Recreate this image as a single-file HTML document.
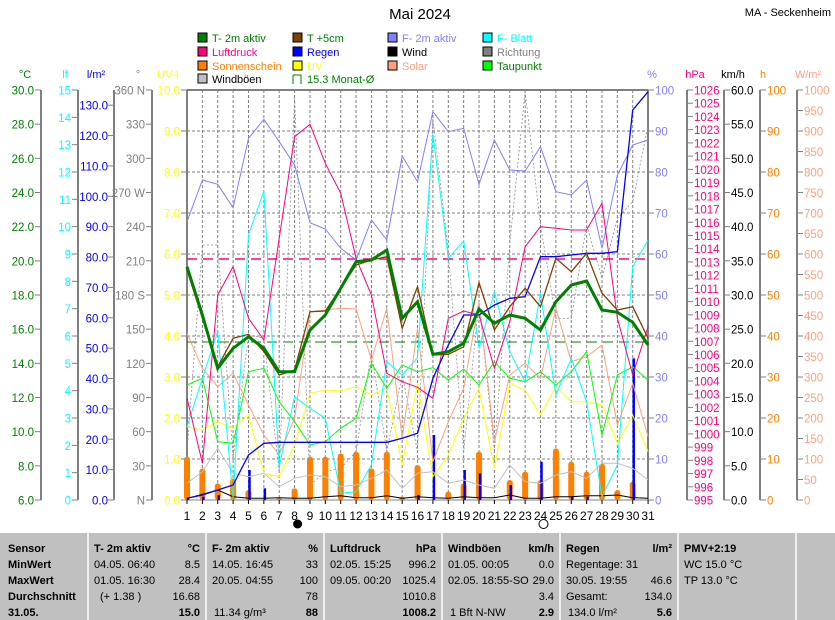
<!DOCTYPE html>
<html><head><meta charset="utf-8"><style>
body{margin:0;background:#fff;width:835px;height:620px;overflow:hidden;font-family:"Liberation Sans",sans-serif}
svg{display:block}
text{font-family:"Liberation Sans",sans-serif}
</style></head><body>
<svg id="s" width="835" height="620" xmlns="http://www.w3.org/2000/svg" font-size="11">
<text x="420" y="19" font-size="15" text-anchor="middle">Mai 2024</text>
<text x="831" y="16" font-size="11" text-anchor="end">MA - Seckenheim</text>
<g id="g"></g>
</svg>
<script>
const NS="http://www.w3.org/2000/svg",g=document.getElementById('g');
function el(t,a,txt){const e=document.createElementNS(NS,t);for(const k in a)e.setAttribute(k,a[k]);if(txt!=null)e.textContent=txt;g.appendChild(e);return e;}
const X0=187,DX=15.37,T=90,B=500;
const dx=d=>X0+(d-1)*DX, zy=v=>85+v/3;
const leg=[[198,38,'#008000','T- 2m aktiv','#008000'],[293,38,'#804000','T +5cm','#008000'],[388,38,'#8080ff','F- 2m aktiv','#8080ff'],[483,38,'#00ffff','F- Blatt','#00ffff'],
[198,52,'#ff0080','Luftdruck','#ff0080'],[293,52,'#0000ff','Regen','#0000ff'],[388,52,'#000','Wind','#000'],[483,52,'#808080','Richtung','#808080'],
[198,66,'#ff8000','Sonnenschein','#ff8000'],[293,66,'#ffff00','UV','#ffff00'],[388,66,'#ffa080','Solar','#ffa080'],[483,66,'#00ff00','Taupunkt','#008000'],
[198,79,'#c0c0c0','Windböen','#000']];
leg.forEach(l=>{el('rect',{x:l[0],y:l[1]-5,width:9,height:9,fill:l[2],stroke:'#000'});el('text',{x:l[0]+14,y:l[1]+4,fill:l[4]},l[3]);});
el('path',{d:'M293 75 H301 V84 M293 75 V84',stroke:'#008000',fill:'none'});
el('text',{x:307,y:83,fill:'#008000'},'15.3 Monat-Ø');
for(let i=1;i<10;i++)el('line',{x1:X0,x2:648,y1:T+i*41,y2:T+i*41,stroke:'#808080','stroke-dasharray':'3,2'});
for(let d=2;d<=30;d++)el('line',{x1:dx(d),x2:dx(d),y1:T,y2:B,stroke:'#808080','stroke-dasharray':'3,2'});
[[25,'°C','#008000'],[65,'lf','#00ffff'],[96,'l/m²','#0000ff'],[138,'°','#808080'],[168,'UV-I','#ffff00'],[652,'%','#8080ff'],[695,'hPa','#ff0080'],[733,'km/h','#000'],[763,'h','#ff8000'],[808,'W/m²','#ffa080']].forEach(h=>el('text',{x:h[0],y:78,fill:h[2],'text-anchor':'middle'},h[1]));
function axis(xl,n,fmt,col,right){
 el('line',{x1:xl,x2:xl,y1:T,y2:B,stroke:'#808080','stroke-width':2});
 for(let i=0;i<=n;i++){const y=T+i*(B-T)/n;
  if(!right){el('line',{x1:xl-6,x2:xl,y1:y,y2:y,stroke:'#808080'});el('text',{x:xl-7,y:y+4.5,fill:col,'text-anchor':'end','font-size':11.5},fmt(i));}
  else{el('line',{x1:xl,x2:xl+6,y1:y,y2:y,stroke:'#808080'});el('text',{x:xl+7,y:y+4.5,fill:col,'font-size':11.5},fmt(i));}}
}
axis(41,12,i=>(30-2*i).toFixed(1),'#008000');
axis(78,15,i=>String(15-i),'#00ffff');
el('line',{x1:114,x2:114,y1:T,y2:B,stroke:'#808080','stroke-width':2});
for(let v=0;v<=130;v+=10){const y=B-v*410/135;el('line',{x1:108,x2:114,y1:y,y2:y,stroke:'#808080'});el('text',{x:108,y:y+4.5,fill:'#0000ff','text-anchor':'end','font-size':11.5},v.toFixed(1));}
const dirs=['360 N','330','300','270 W','240','210','180 S','150','120','90','60','30','N'];
axis(152,12,i=>dirs[i],'#808080');
axis(187,10,i=>(10-i).toFixed(1),'#ffff00');
axis(648,10,i=>String(100-10*i),'#8080ff',1);
axis(687,31,i=>String(1026-i),'#ff0080',1);
axis(724,12,i=>(60-5*i).toFixed(1),'#000',1);
axis(760,10,i=>String(100-10*i),'#ff8000',1);
axis(797,20,i=>String(1000-50*i),'#ffa080',1);
el('line',{x1:X0,x2:648,y1:T,y2:T,stroke:'#808080','stroke-width':2});
el('line',{x1:X0,x2:648,y1:B,y2:B,stroke:'#808080','stroke-width':1});
for(let d=1;d<=31;d++){el('line',{x1:dx(d),x2:dx(d),y1:B,y2:B+4,stroke:'#000'});el('text',{x:dx(d),y:520,'text-anchor':'middle','font-size':12},String(d));}
el('circle',{cx:dx(8)+3,cy:524,r:4.5,fill:'#000'});
el('circle',{cx:dx(24)+3,cy:524,r:4.5,fill:'#fff',stroke:'#000'});
el('line',{x1:X0,x2:648,y1:259,y2:259,stroke:'#ff0080','stroke-width':1.5,'stroke-dasharray':'10,6'});
el('line',{x1:X0,x2:648,y1:342,y2:342,stroke:'#008000','stroke-width':1,'stroke-dasharray':'10,6'});
const sun=[1115,1150,1195,1180,1215,null,1240,1210,1115,1115,1105,1100,1150,1100,1235,1140,null,1220,1195,1100,null,1185,1160,1185,1090,1130,1160,1135,1215,1190,null];
sun.forEach((v,i)=>{if(v==null)return;const y=zy(v);el('rect',{x:dx(i+1)-3,y:y,width:6,height:B-y,fill:'#ff8000',rx:3});});
const rain={3:1230,5:1155,6:1210,16:1230,17:1050,19:1155,20:1165,22:1200,24:1130,30:820,1:1238,2:1235,26:1235,27:1235};
for(const d in rain)el('line',{x1:dx(+d)+1,x2:dx(+d)+1,y1:zy(rain[d]),y2:B,stroke:'#0000ff','stroke-width':2.5});
function line(arr,col,w,dash){el('polyline',{points:arr.map((v,i)=>dx(i+1).toFixed(1)+','+zy(v).toFixed(1)).join(' '),fill:'none',stroke:col,'stroke-width':w||1,'stroke-dasharray':dash||'none'});}
line([1100,480,480,1120,750,760,1160,40,1200,1160,1150,1100,800,1100,870,1100,100,500,1100,650,1100,475,20,420,700,700,420,580,400,350,120],'#909090',0.8,'2,2');
line([1195,1160,1090,1165,1175,1165,1205,1180,1170,1175,1205,1200,1180,1155,1210,1165,1160,1195,1185,1200,1210,1140,1190,1195,1170,1160,1180,1135,1135,1150,1185],'#c0c0c0');
line([1240,1228,1215,1235,1240,1240,1238,1240,1240,1235,1232,1238,1238,1232,1240,1235,1238,1240,1235,1238,1238,1230,1240,1240,1235,1235,1232,1232,1230,1238,1240],'#000');
line([1025,1035,1010,1030,990,1165,1175,1080,925,915,918,905,930,910,1140,895,1175,1110,1000,910,1150,895,915,990,905,950,950,960,1075,990,1100],'#ffff00');
line([745,850,905,865,960,1050,1110,1000,680,675,670,672,825,670,1060,730,1130,1010,910,650,1070,870,835,880,670,830,815,780,1020,895,1055],'#ffa080');
line([900,880,1070,1075,860,850,950,1010,1080,1070,1030,1000,835,910,840,860,848,885,852,900,830,880,890,860,900,860,800,1050,870,845,885],'#00ff00');
line([1025,880,740,1240,450,318,1145,935,970,1000,1225,1220,1140,830,870,818,145,520,468,790,620,800,890,625,930,820,950,1235,1140,545,465],'#00ffff');
line([410,285,298,368,160,103,170,240,413,432,490,525,405,465,213,290,80,140,130,298,165,255,258,185,320,330,285,490,270,180,165],'#8080ff');
line([940,1135,630,545,700,765,460,155,118,235,325,520,630,865,890,907,940,700,678,690,850,710,485,425,430,435,435,355,700,870,725],'#ff0080');
line([1240,1230,1215,1200,1110,1075,1072,1072,1072,1072,1072,1072,1072,1072,1060,1045,880,780,690,690,660,640,635,515,515,510,505,505,500,75,20],'#0000ff',1.3);
line([555,700,845,760,748,800,870,855,680,678,610,540,525,515,730,605,810,808,785,593,735,665,610,665,520,560,505,625,675,665,760],'#804000',1.3);
line([545,690,850,790,755,790,860,860,735,690,610,530,525,495,700,650,808,800,775,672,715,690,700,735,650,600,588,675,682,712,780],'#008000',3);
el('rect',{x:0,y:533,width:835,height:87,fill:'#c0c0c0'});
[88,206,324,442,560,678,796].forEach(x=>el('line',{x1:x,x2:x,y1:533,y2:620,stroke:'#fff','stroke-width':1.5}));
const rowsY=[552,568,584,600,616];
function t(x,y,s,b,anchor){el('text',{x:x,y:y,'font-size':11,'font-weight':b?'bold':'normal','text-anchor':anchor||'start'},s);}
['Sensor','MinWert','MaxWert','Durchschnitt','31.05.'].forEach((s,i)=>t(8,rowsY[i],s,1));
const cols=[
[94,200,['T- 2m aktiv','°C',1],['04.05.  06:40','8.5'],['01.05.  16:30','28.4'],['  (+ 1.38 )','16.68'],['','15.0',1]],
[212,318,['F- 2m aktiv','%',1],['14.05.  16:45','33'],['20.05.  04:55','100'],['','78'],['11.34 g/m³','88',1]],
[330,436,['Luftdruck','hPa',1],['02.05.  15:25','996.2'],['09.05.  00:20','1025.4'],['','1010.8'],['','1008.2',1]],
[448,554,['Windböen','km/h',1],['01.05.  00:05','0.0'],['02.05.  18:55-SO','29.0'],['','3.4'],['1 Bft N-NW','2.9',1]],
[566,672,['Regen','l/m²',1],['Regentage: 31',''],['30.05.  19:55','46.6'],['Gesamt:','134.0'],['134.0 l/m²','5.6',1]]];
cols.forEach(c=>{for(let r=0;r<5;r++){const a=c[r+2];t(c[0]+(r==3&&c[0]==94?6:0)+(r==4&&c[0]!=94&&c[0]!=330?2:0),rowsY[r],a[0],r==0);t(c[1],rowsY[r],a[1],r==0||a[2],'end');}});
t(684,552,'PMV+2:19',1);t(684,568,'WC 15.0 °C');t(684,584,'TP 13.0 °C');
</script>
</body></html>
